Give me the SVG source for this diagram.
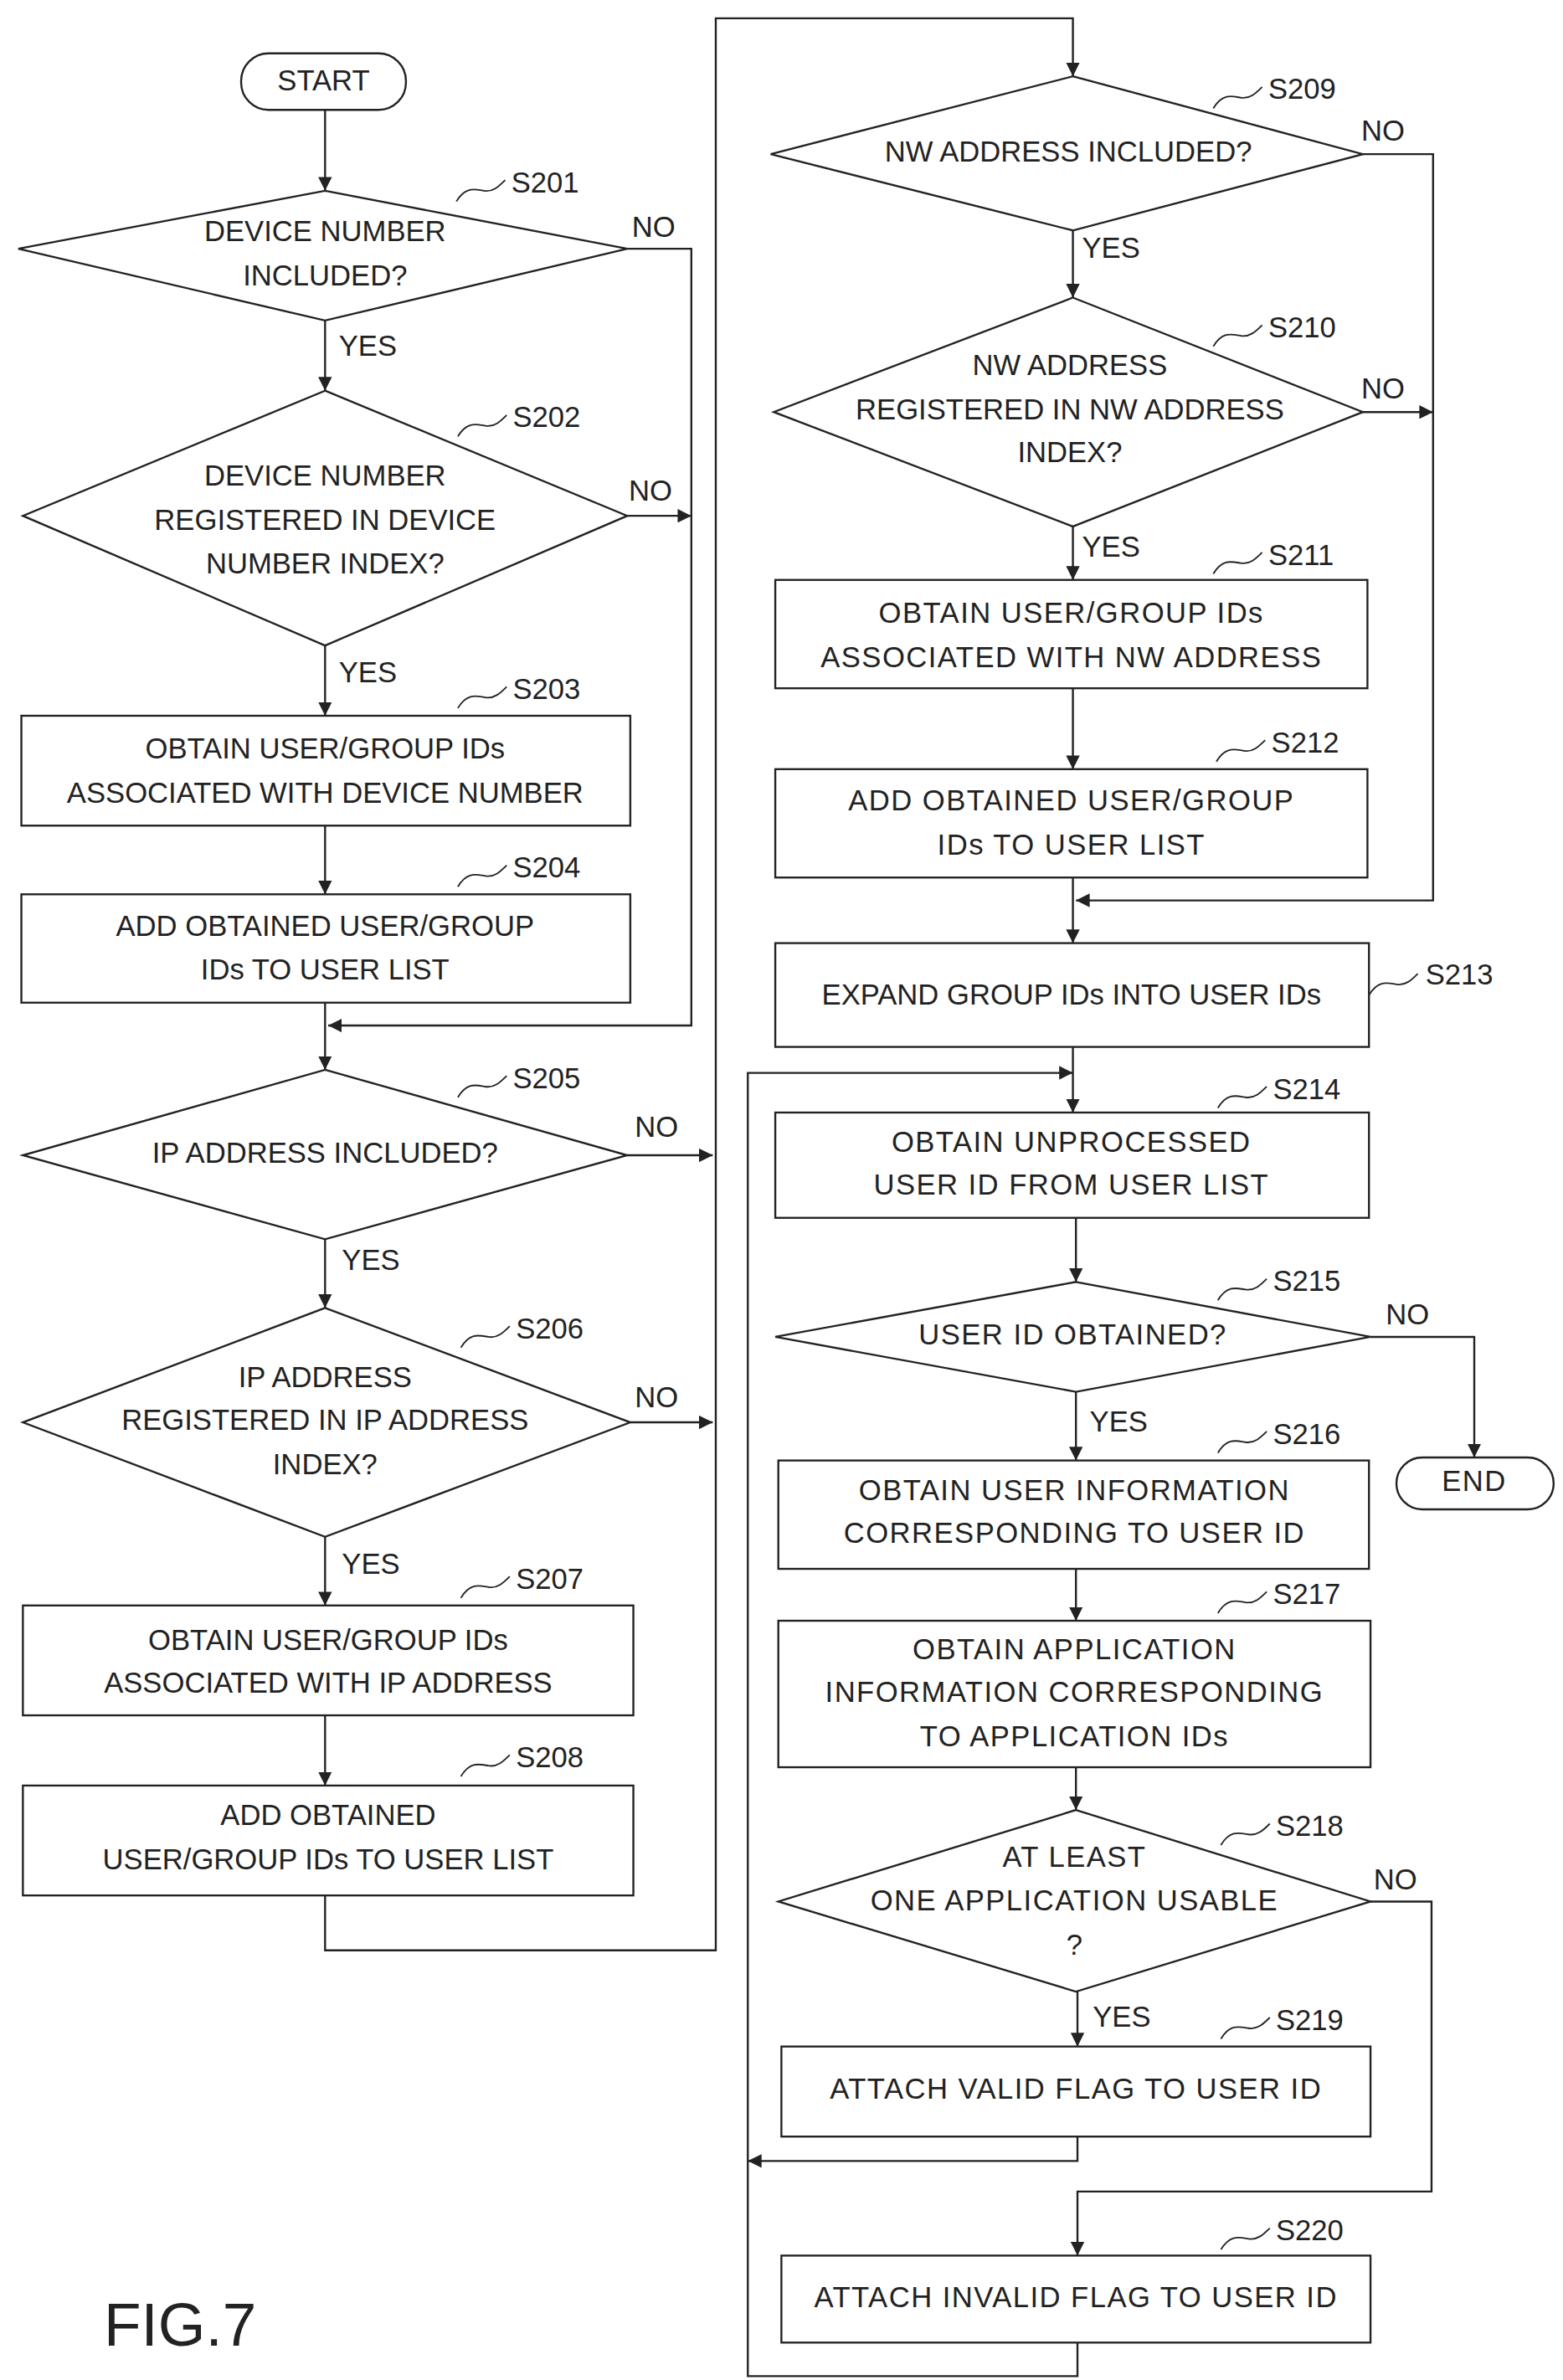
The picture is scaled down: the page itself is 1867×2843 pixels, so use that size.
<svg xmlns="http://www.w3.org/2000/svg" width="1867" height="2843" viewBox="0 0 1867 2843">
<defs>
<style>
.s{fill:#fff;stroke:#222;stroke-width:1.3}
.c{fill:none;stroke:#222;stroke-width:1.3}
text{font-family:"Liberation Sans",Arial,sans-serif;font-size:19px;fill:#222}
.m{text-anchor:middle;dominant-baseline:middle}
.w{letter-spacing:0.8px}
.q{fill:none;stroke:#222;stroke-width:1}
</style>
<marker id="a" viewBox="0 0 10 10" refX="10" refY="5" markerWidth="9" markerHeight="9" markerUnits="userSpaceOnUse" orient="auto"><path d="M0,0 L10,5 L0,10 z" fill="#222"/></marker>
<path id="sq" class="q" d="M0,0 c6,-10 12,-8 18,-7 c6,1 10,-3 14,-7"/>
</defs>
<rect width="1867" height="2843" fill="#fff"/>
<g transform="scale(1.823)">
<g id="connectors" class="c" marker-end="url(#a)">
<path d="M213,72 V125"/>
<path d="M411,163 H453 V672 H215"/>
<path d="M213,210 V256"/>
<path d="M411,338 H453"/>
<path d="M213,423 V469"/>
<path d="M213,541 V586"/>
<path d="M213,657 V701"/>
<path d="M411,757 H467"/>
<path d="M213,812 V857"/>
<path d="M413,932 H467"/>
<path d="M213,1007 V1052"/>
<path d="M213,1124 V1170"/>
<path d="M213,1242 V1278 H469 V12 H703 V50"/>
<path d="M893,101 H939 V590 H705"/>
<path d="M703,151 V195"/>
<path d="M893,270 H939"/>
<path d="M703,345 V380"/>
<path d="M703,451 V504"/>
<path d="M703,575 V618"/>
<path d="M703,686 V729"/>
<path d="M706,1535 V1557 H490 V703 H703"/>
<path d="M705,798 V840"/>
<path d="M898,876 H966 V955"/>
<path d="M705,912 V957"/>
<path d="M705,1028 V1062"/>
<path d="M705,1158 V1186"/>
<path d="M898,1246 H938 V1436 H706 V1478"/>
<path d="M706,1305 V1341"/>
<path d="M706,1400 V1416 H490"/>
</g>
<g id="labels">
<text x="414" y="155">NO</text>
<text x="412" y="328">NO</text>
<text x="416" y="745">NO</text>
<text x="416" y="922">NO</text>
<text x="892" y="92">NO</text>
<text x="892" y="261">NO</text>
<text x="908" y="868">NO</text>
<text x="900" y="1238">NO</text>
<text x="222" y="233">YES</text>
<text x="222" y="447">YES</text>
<text x="224" y="832">YES</text>
<text x="224" y="1031">YES</text>
<text x="709" y="169">YES</text>
<text x="709" y="365">YES</text>
<text x="714" y="938">YES</text>
<text x="716" y="1328">YES</text>
</g>
<g id="start"><rect class="s" x="158" y="35" width="108" height="37" rx="18"/><text class="m" x="212" y="54">START</text></g>
<g id="s201"><path class="s" d="M213,125 L411,163 L213,210 L12,163 Z"/><text class="m" x="213" y="153">DEVICE NUMBER</text><text class="m" x="213" y="182">INCLUDED?</text><use href="#sq" x="299" y="132"/><text x="335" y="126">S201</text></g>
<g id="s202"><path class="s" d="M213,256 L411,338 L213,423 L15,338 Z"/><text class="m" x="213" y="313">DEVICE NUMBER</text><text class="m" x="213" y="342">REGISTERED IN DEVICE</text><text class="m" x="213" y="371">NUMBER INDEX?</text><use href="#sq" x="300" y="286"/><text x="336" y="280">S202</text></g>
<g id="s203"><rect class="s" x="14" y="469" width="399" height="72"/><text class="m" x="213" y="492">OBTAIN USER/GROUP IDs</text><text class="m" x="213" y="521">ASSOCIATED WITH DEVICE NUMBER</text><use href="#sq" x="300" y="464"/><text x="336" y="458">S203</text></g>
<g id="s204"><rect class="s" x="14" y="586" width="399" height="71"/><text class="m" x="213" y="608">ADD OBTAINED USER/GROUP</text><text class="m" x="213" y="637">IDs TO USER LIST</text><use href="#sq" x="300" y="581"/><text x="336" y="575">S204</text></g>
<g id="s205"><path class="s" d="M213,701 L411,757 L213,812 L15,757 Z"/><text class="m" x="213" y="757">IP ADDRESS INCLUDED?</text><use href="#sq" x="300" y="719"/><text x="336" y="713">S205</text></g>
<g id="s206"><path class="s" d="M213,857 L413,932 L213,1007 L15,932 Z"/><text class="m" x="213" y="904">IP ADDRESS</text><text class="m" x="213" y="932">REGISTERED IN IP ADDRESS</text><text class="m" x="213" y="961">INDEX?</text><use href="#sq" x="302" y="883"/><text x="338" y="877">S206</text></g>
<g id="s207"><rect class="s" x="15" y="1052" width="400" height="72"/><text class="m" x="215" y="1076">OBTAIN USER/GROUP IDs</text><text class="m" x="215" y="1104">ASSOCIATED WITH IP ADDRESS</text><use href="#sq" x="302" y="1047"/><text x="338" y="1041">S207</text></g>
<g id="s208"><rect class="s" x="15" y="1170" width="400" height="72"/><text class="m" x="215" y="1191">ADD OBTAINED</text><text class="m" x="215" y="1220">USER/GROUP IDs TO USER LIST</text><use href="#sq" x="302" y="1164"/><text x="338" y="1158">S208</text></g>
<g id="s209"><path class="s" d="M703,50 L893,101 L703,151 L505,101 Z"/><text class="m" x="700" y="101">NW ADDRESS INCLUDED?</text><use href="#sq" x="795" y="71"/><text x="831" y="65">S209</text></g>
<g id="s210"><path class="s" d="M703,195 L893,270 L703,345 L507,270 Z"/><text class="m" x="701" y="241">NW ADDRESS</text><text class="m" x="701" y="270">REGISTERED IN NW ADDRESS</text><text class="m" x="701" y="298">INDEX?</text><use href="#sq" x="795" y="227"/><text x="831" y="221">S210</text></g>
<g id="s211"><rect class="s" x="508" y="380" width="388" height="71"/><text class="m w" x="702" y="403">OBTAIN USER/GROUP IDs</text><text class="m w" x="702" y="432">ASSOCIATED WITH NW ADDRESS</text><use href="#sq" x="795" y="376"/><text x="831" y="370">S211</text></g>
<g id="s212"><rect class="s" x="508" y="504" width="388" height="71"/><text class="m w" x="702" y="526">ADD OBTAINED USER/GROUP</text><text class="m w" x="702" y="555">IDs TO USER LIST</text><use href="#sq" x="797" y="499"/><text x="833" y="493">S212</text></g>
<g id="s213"><rect class="s" x="508" y="618" width="389" height="68"/><text class="m" x="702" y="653">EXPAND GROUP IDs INTO USER IDs</text><use href="#sq" x="897" y="652"/><text x="934" y="645">S213</text></g>
<g id="s214"><rect class="s" x="508" y="729" width="389" height="69"/><text class="m w" x="702" y="750">OBTAIN UNPROCESSED</text><text class="m w" x="702" y="778">USER ID FROM USER LIST</text><use href="#sq" x="798" y="726"/><text x="834" y="720">S214</text></g>
<g id="s215"><path class="s" d="M705,840 L898,876 L705,912 L508,876 Z"/><text class="m w" x="703" y="876">USER ID OBTAINED?</text><use href="#sq" x="798" y="852"/><text x="834" y="846">S215</text></g>
<g id="end"><rect class="s" x="915" y="955" width="103" height="34" rx="17"/><text class="m w" x="966" y="972">END</text></g>
<g id="s216"><rect class="s" x="510" y="957" width="387" height="71"/><text class="m w" x="704" y="978">OBTAIN USER INFORMATION</text><text class="m w" x="704" y="1006">CORRESPONDING TO USER ID</text><use href="#sq" x="798" y="952"/><text x="834" y="946">S216</text></g>
<g id="s217"><rect class="s" x="510" y="1062" width="388" height="96"/><text class="m w" x="704" y="1082">OBTAIN APPLICATION</text><text class="m w" x="704" y="1110">INFORMATION CORRESPONDING</text><text class="m w" x="704" y="1139">TO APPLICATION IDs</text><use href="#sq" x="798" y="1057"/><text x="834" y="1051">S217</text></g>
<g id="s218"><path class="s" d="M705,1186 L898,1246 L705,1305 L510,1246 Z"/><text class="m w" x="704" y="1218">AT LEAST</text><text class="m w" x="704" y="1247">ONE APPLICATION USABLE</text><text class="m" x="704" y="1276">?</text><use href="#sq" x="800" y="1209"/><text x="836" y="1203">S218</text></g>
<g id="s219"><rect class="s" x="512" y="1341" width="386" height="59"/><text class="m w" x="705" y="1370">ATTACH VALID FLAG TO USER ID</text><use href="#sq" x="800" y="1336"/><text x="836" y="1330">S219</text></g>
<g id="s220"><rect class="s" x="512" y="1478" width="386" height="57"/><text class="m w" x="705" y="1507">ATTACH INVALID FLAG TO USER ID</text><use href="#sq" x="800" y="1474"/><text x="836" y="1468">S220</text></g>
<text x="68" y="1537" style="font-size:40px">FIG.7</text>
</g>
</svg>
